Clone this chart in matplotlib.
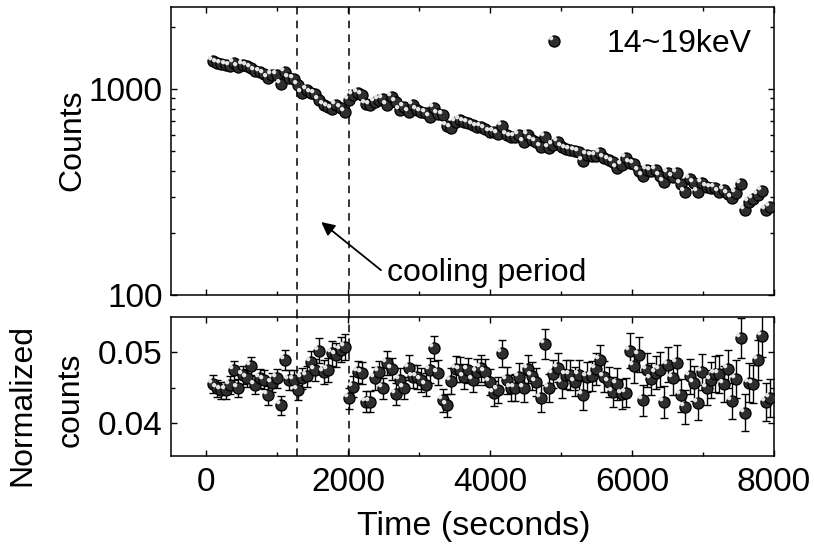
import numpy as np
import matplotlib
matplotlib.use("Agg")
import matplotlib.pyplot as plt
from matplotlib.path import Path
from matplotlib.legend_handler import HandlerTuple
from matplotlib.ticker import FixedLocator, NullFormatter, MultipleLocator

plt.rcParams['font.family'] = ['Liberation Sans', 'DejaVu Sans']

# ---------------- data ----------------
time_s = np.arange(90, 7960, 60)  # bin centres (s)

counts = [1372, 1341, 1323, 1300, 1293, 1341, 1283, 1308, 1293, 1270,
          1227, 1213, 1183, 1127, 1169, 1169, 1058, 1205, 1127, 1114,
          1046, 953, 989, 960, 942, 880, 836, 821, 797, 836,
          806, 776, 884, 935, 960, 935, 850, 836, 868, 884,
          891, 836, 912, 868, 791, 821, 776, 836, 791, 776,
          762, 734, 811, 760, 748, 661, 645, 694, 707, 694,
          681, 669, 656, 656, 640, 620, 620, 605, 661, 598,
          587, 583, 598, 555, 598, 565, 555, 525, 587, 515,
          535, 555, 520, 513, 506, 502, 496, 449, 478, 475,
          473, 487, 460, 452, 443, 412, 428, 461, 439, 433,
          400, 378, 405, 401, 405, 380, 355, 390, 375, 393,
          346, 317, 365, 349, 317, 349, 336, 329, 329, 317,
          323, 310, 295, 312, 346, 260, 284, 291, 306, 321,
          259, 266]

norm_counts = [0.0455, 0.0449, 0.0446, 0.0446, 0.0454, 0.0474, 0.0450, 0.0468, 0.0463, 0.0480,
               0.0454, 0.0463, 0.0461, 0.0439, 0.0457, 0.0463, 0.0425, 0.0489, 0.0461, 0.0461,
               0.0447, 0.0463, 0.0466, 0.0486, 0.0474, 0.0502, 0.0472, 0.0475, 0.0498, 0.0496,
               0.0503, 0.0507, 0.0435, 0.0451, 0.0472, 0.0471, 0.0430, 0.0430, 0.0463, 0.0472,
               0.0449, 0.0484, 0.0476, 0.0441, 0.0461, 0.0449, 0.0478, 0.0465, 0.0465, 0.0461,
               0.0454, 0.0474, 0.0505, 0.0471, 0.0432, 0.0425, 0.0459, 0.0476, 0.0475, 0.0465,
               0.0474, 0.0461, 0.0472, 0.0477, 0.0472, 0.0458, 0.0442, 0.0447, 0.0498, 0.0460,
               0.0449, 0.0450, 0.0465, 0.0449, 0.0476, 0.0466, 0.0458, 0.0435, 0.0511, 0.0449,
               0.0469, 0.0478, 0.0456, 0.0468, 0.0468, 0.0458, 0.0468, 0.0439, 0.0465, 0.0466,
               0.0476, 0.0488, 0.0465, 0.0458, 0.0444, 0.0455, 0.0441, 0.0443, 0.0502, 0.0480,
               0.0496, 0.0432, 0.0475, 0.0462, 0.0471, 0.0475, 0.0430, 0.0482, 0.0463, 0.0485,
               0.0439, 0.0423, 0.0466, 0.0456, 0.0429, 0.0472, 0.0450, 0.0461, 0.0469, 0.0469,
               0.0455, 0.0476, 0.0431, 0.0462, 0.0519, 0.0415, 0.0457, 0.0455, 0.0489, 0.0522,
               0.0430, 0.0435]

# Poisson error of the normalized counts
norm_err = np.array(norm_counts) / np.sqrt(np.array(counts, dtype=float))

cooling_start = 1280
cooling_end = 2010
series_label = "14~19keV"

# ---------------- styling helpers ----------------
theta = np.linspace(0, 2 * np.pi, 40)
hl_verts = np.column_stack([-0.34 + 0.22 * np.cos(theta), 0.34 + 0.22 * np.sin(theta)])
highlight_marker = Path(hl_verts, closed=True)

MS = 8.0
main_kw = dict(linestyle='none', marker='o', markersize=MS, markerfacecolor='#2e2e2e',
               markeredgecolor='black', markeredgewidth=0.9)
hl_kw = dict(linestyle='none', marker=highlight_marker, markersize=MS,
             markerfacecolor='#e6e6e6', markeredgecolor='none')

fig = plt.figure(figsize=(8.14, 5.54), dpi=100)
ax1 = fig.add_axes([0.2101, 0.4675, 0.7408, 0.5199])
ax2 = fig.add_axes([0.2101, 0.1769, 0.7408, 0.2509])

FS_TICK = 24
FS_LAB = 23

# ---------------- top panel ----------------
h_main, = ax1.plot(time_s, counts, **main_kw, zorder=3)
h_hl, = ax1.plot(time_s, counts, **hl_kw, zorder=4)
ax1.set_yscale('log')
ax1.set_ylim(100, 2500)
ax1.set_xlim(-500, 8000)
ax1.yaxis.set_major_locator(FixedLocator([100, 1000]))
ax1.set_yticklabels(['100', '1000'])
ax1.yaxis.set_minor_locator(FixedLocator([200, 300, 400, 500, 600, 700, 800, 900, 2000]))
ax1.yaxis.set_minor_formatter(NullFormatter())
ax1.xaxis.set_major_locator(MultipleLocator(2000))
ax1.xaxis.set_minor_locator(MultipleLocator(1000))
ax1.tick_params(labelbottom=False)

for xv in (cooling_start, cooling_end):
    ax1.axvline(xv, ymin=-22 / 288, ymax=1, color='black', lw=1.1,
                linestyle=(0, (5, 4)), clip_on=False, zorder=1)

ax1.annotate('', xy=(1617, 226), xytext=(2460, 132),
             arrowprops=dict(arrowstyle='-|>', lw=1.3, color='black', mutation_scale=20,
                             shrinkA=0, shrinkB=0))
ax1.text(2545, 117, 'cooling period', fontsize=FS_LAB, ha='left', va='baseline')

leg = ax1.legend([(h_main, h_hl)], [series_label], handler_map={tuple: HandlerTuple(ndivide=1)},
                 loc='upper right', frameon=False, fontsize=FS_LAB, handlelength=1.0,
                 handletextpad=1.15, borderaxespad=0.3, bbox_to_anchor=(1.0, 1.0))

# ---------------- bottom panel ----------------
ax2.errorbar(time_s, norm_counts, yerr=norm_err, fmt='none', ecolor='black',
             elinewidth=1.0, capsize=3, capthick=1.0, zorder=2)
ax2.plot(time_s, norm_counts, **main_kw, zorder=3)
ax2.plot(time_s, norm_counts, **hl_kw, zorder=4)
ax2.set_xlim(-500, 8000)
ax2.set_ylim(0.0354, 0.0549)
ax2.yaxis.set_major_locator(FixedLocator([0.04, 0.05]))
ax2.set_yticklabels(['0.04', '0.05'])
ax2.yaxis.set_minor_locator(FixedLocator([0.045]))
ax2.xaxis.set_major_locator(MultipleLocator(2000))
ax2.xaxis.set_minor_locator(MultipleLocator(1000))
for xv in (cooling_start, cooling_end):
    ax2.axvline(xv, color='black', lw=1.1, linestyle=(0, (5, 4)), zorder=1)

for ax in (ax1, ax2):
    for sp in ax.spines.values():
        sp.set_linewidth(1.1)
    ax.tick_params(which='both', direction='in', top=True, right=True, width=1.0,
                   labelsize=FS_TICK, colors='black')
    ax.tick_params(which='major', length=4.5)
    ax.tick_params(which='minor', length=3)
    ax.tick_params(axis='y', pad=6)
    ax.tick_params(axis='x', pad=8)

# labels
fig.text(72 / 814, 1 - 140 / 554, 'Counts', rotation=90, ha='center', va='center', fontsize=FS_LAB)
fig.text(22 / 814, 1 - 405 / 554, 'Normalized', rotation=90, ha='center', va='center',
         fontsize=FS_LAB)
fig.text(71 / 814, 1 - 400 / 554, 'counts', rotation=90, ha='center', va='center',
         fontsize=FS_LAB)
fig.text(474 / 814, 1 - 527 / 554, 'Time (seconds)', ha='center', va='center', fontsize=24.5)

fig.savefig('out.png', dpi=100)
